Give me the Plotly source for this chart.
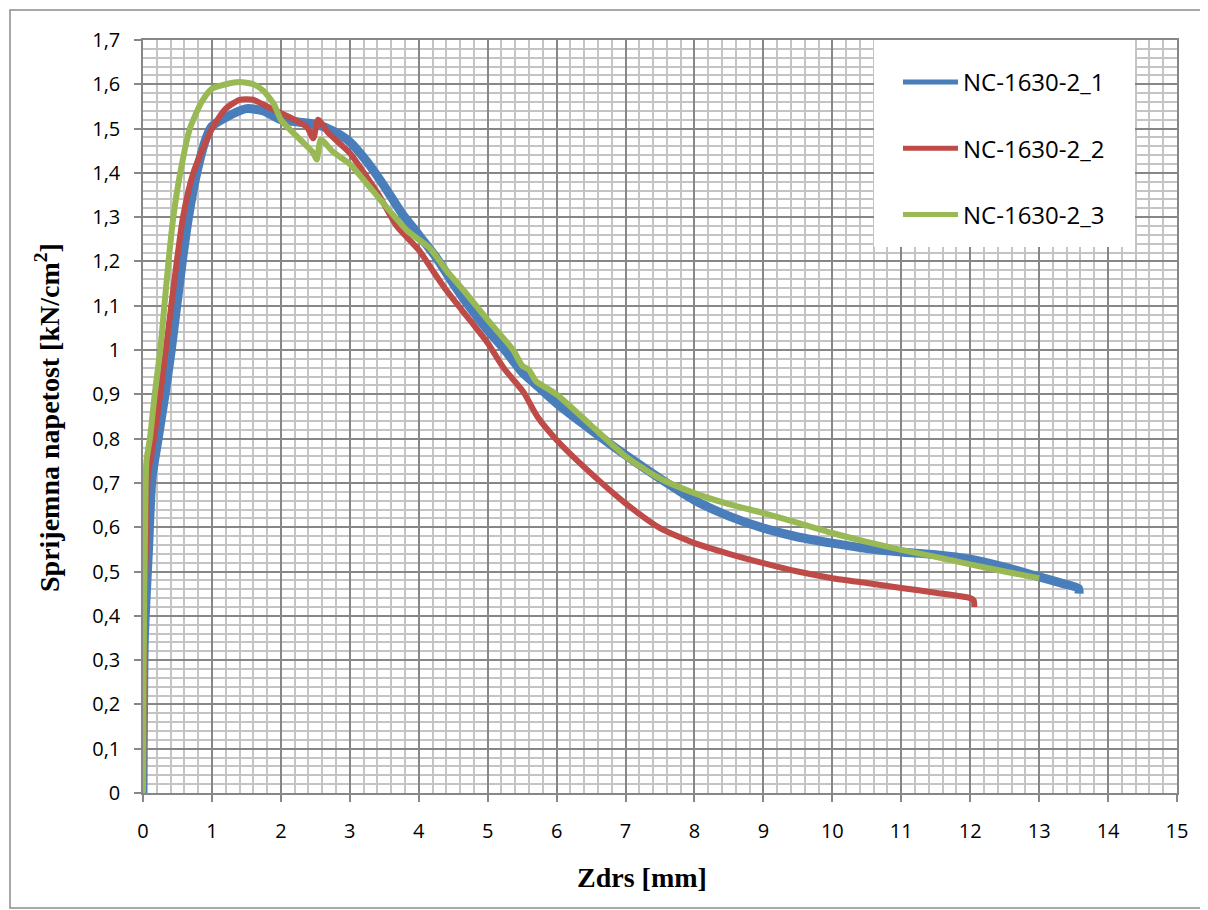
import plotly.graph_objects as go

# ---- data ----
series_names = ["NC-1630-2_1", "NC-1630-2_2", "NC-1630-2_3"]
series_colors = ["#4A7EBB", "#BE4B48", "#98B954"]

x1 = [0, 0.02, 0.08, 0.13, 0.22, 0.32, 0.41, 0.49, 0.57, 0.66, 0.78, 0.92, 1.0, 1.2, 1.5,
      1.75, 2.0, 2.25, 2.5, 2.75, 3.0, 3.25, 3.5, 3.75, 4.0, 4.25, 4.5, 4.75, 5.0, 5.25,
      5.5, 5.75, 6.0, 6.5, 7.0, 7.5, 8.0, 8.5, 9.0, 9.5, 10.0, 10.5, 11.0, 11.5, 12.0,
      12.5, 13.0, 13.3, 13.57, 13.58]
y1 = [0, 0.35, 0.55, 0.71, 0.8, 0.9, 1.0, 1.1, 1.2, 1.3, 1.4, 1.48, 1.505, 1.525, 1.545,
      1.54, 1.52, 1.515, 1.51, 1.495, 1.47, 1.425, 1.37, 1.31, 1.26, 1.21, 1.15, 1.095, 1.045, 1.0,
      0.95, 0.915, 0.88, 0.82, 0.763, 0.71, 0.661, 0.625, 0.598, 0.578, 0.564, 0.552, 0.544, 0.538, 0.528,
      0.51, 0.488, 0.475, 0.462, 0.45]

x2 = [0, 0.02, 0.05, 0.07, 0.16, 0.25, 0.33, 0.41, 0.49, 0.58, 0.73, 1.0, 1.2, 1.4, 1.6,
      1.8, 2.0, 2.2, 2.38, 2.47, 2.54, 2.69, 3.0, 3.25, 3.44, 3.68, 4.0, 4.2, 4.4, 4.74,
      5.0, 5.23, 5.52, 5.72, 6.0, 6.44, 7.0, 7.5, 8.0, 8.5, 9.0, 9.5, 10.0, 10.5, 11.0,
      11.5, 12.0, 12.05, 12.06]
y2 = [0, 0.4, 0.6, 0.714, 0.8, 0.9, 1.0, 1.1, 1.2, 1.3, 1.4, 1.5, 1.545, 1.565, 1.565,
      1.55, 1.535, 1.52, 1.503, 1.478, 1.52, 1.49, 1.445, 1.39, 1.345, 1.28, 1.226, 1.18, 1.135, 1.068,
      1.016, 0.96, 0.905, 0.85, 0.797, 0.73, 0.654, 0.598, 0.564, 0.54, 0.519, 0.5, 0.485, 0.474, 0.463,
      0.452, 0.44, 0.435, 0.42]

x3 = [0, 0.01, 0.03, 0.05, 0.1, 0.17, 0.25, 0.31, 0.37, 0.44, 0.54, 0.68, 0.85, 1.0, 1.2,
      1.4, 1.6, 1.75, 1.9, 2.0, 2.28, 2.47, 2.52, 2.58, 2.76, 3.0, 3.25, 3.44, 3.83, 4.16,
      4.4, 4.65, 5.0, 5.37, 5.5, 5.6, 5.7, 6.0, 6.5, 7.0, 7.5, 8.0, 8.5, 9.0, 9.5,
      10.0, 10.5, 11.0, 11.5, 12.0, 12.5, 13.0]
y3 = [0, 0.3, 0.6, 0.75, 0.8, 0.9, 1.0, 1.1, 1.2, 1.3, 1.4, 1.5, 1.56, 1.59, 1.6,
      1.605, 1.6, 1.585, 1.555, 1.52, 1.475, 1.445, 1.43, 1.475, 1.447, 1.42, 1.375, 1.34, 1.27, 1.23,
      1.18, 1.135, 1.068, 1.0, 0.965, 0.955, 0.93, 0.9, 0.83, 0.76, 0.71, 0.677, 0.652, 0.632, 0.61,
      0.587, 0.567, 0.549, 0.533, 0.516, 0.5, 0.485]

x_ticks = list(range(0, 16))
y_tick_vals = [0, 0.1, 0.2, 0.3, 0.4, 0.5, 0.6, 0.7, 0.8, 0.9, 1.0, 1.1, 1.2, 1.3, 1.4, 1.5, 1.6, 1.7]
y_tick_text = ["0", "0,1", "0,2", "0,3", "0,4", "0,5", "0,6", "0,7", "0,8", "0,9", "1",
               "1,1", "1,2", "1,3", "1,4", "1,5", "1,6", "1,7"]
x_title = "<b>Zdrs [mm]</b>"
y_title = "<b>Sprijemna napetost [kN/cm<sup>2</sup>]</b>"

xs = [x1, x2, x3]
ys = [y1, y2, y3]
widths = [9, 6, 6]

fig = go.Figure()
for name, color, xx, yy, w in zip(series_names, series_colors, xs, ys, widths):
    fig.add_trace(go.Scatter(
        x=xx, y=yy, mode="lines", name=name, legendgroup=name,
        line=dict(color=color, width=w, shape="spline", smoothing=0.6),
    ))

tick_font = dict(family="Open Sans", size=20, color="#000000")
major = "#878787"
minor = "#C4C4C4"

# page pixel -> paper helpers (page body has an 8px margin)
PL, PW, PB, PH = 143, 1034, 793, 753
def px(p):
    return (p - PL) / PW
def py(p):
    return (PB - p) / PH

fig.update_layout(
    width=1200, height=902,
    margin=dict(l=135, r=31, t=32, b=117),
    paper_bgcolor="white", plot_bgcolor="white",
    showlegend=True,
    legend=dict(
        x=px(898), y=py(60), xanchor="left", yanchor="top",
        bgcolor="rgba(0,0,0,0)", font=dict(family="Open Sans", size=24, color="#000"),
        traceorder="grouped", tracegroupgap=32, itemwidth=55, itemsizing="constant",
    ),
    xaxis=dict(
        range=[0, 15], tickvals=x_ticks, ticks="outside", ticklen=7, tickcolor=major,
        tickwidth=1.5, tickfont=tick_font, ticklabelstandoff=12,
        showgrid=True, gridcolor=major, gridwidth=1.5,
        showline=True, linecolor=major, linewidth=1.5, mirror=True, zeroline=False,
        minor=dict(dtick=0.2, showgrid=True, gridcolor=minor, gridwidth=1.5, ticks=""),
    ),
    yaxis=dict(
        range=[0, 1.7], tickvals=y_tick_vals, ticktext=y_tick_text, ticks="outside", ticklen=7,
        tickcolor=major, tickwidth=1.5, tickfont=tick_font, ticklabelstandoff=10,
        showgrid=True, gridcolor=major, gridwidth=1.5,
        showline=True, linecolor=major, linewidth=1.5, mirror=True, zeroline=False,
        minor=dict(dtick=0.02, showgrid=True, gridcolor=minor, gridwidth=1.5, ticks=""),
    ),
    annotations=[
        dict(text=x_title, xref="paper", yref="paper", x=px(642), y=py(878),
             xanchor="center", yanchor="middle", showarrow=False,
             font=dict(family="Liberation Serif", size=28, color="#000")),
        dict(text=y_title, xref="paper", yref="paper", x=px(47), y=py(418),
             xanchor="center", yanchor="middle", showarrow=False, textangle=-90,
             font=dict(family="Liberation Serif", size=28, color="#000")),
    ],
    shapes=[
        # white legend box
        dict(type="rect", xref="paper", yref="paper",
             x0=px(874), x1=px(1135), y0=py(247), y1=1.0,
             fillcolor="white", line=dict(width=0), layer="above"),
        # outer chart border
        dict(type="rect", xref="paper", yref="paper",
             x0=px(10), x1=px(1206), y0=py(908), y1=py(10),
             line=dict(color="#8C8C8C", width=1.5), fillcolor="rgba(0,0,0,0)", layer="below"),
    ],
)

fig.write_html("out.html")
